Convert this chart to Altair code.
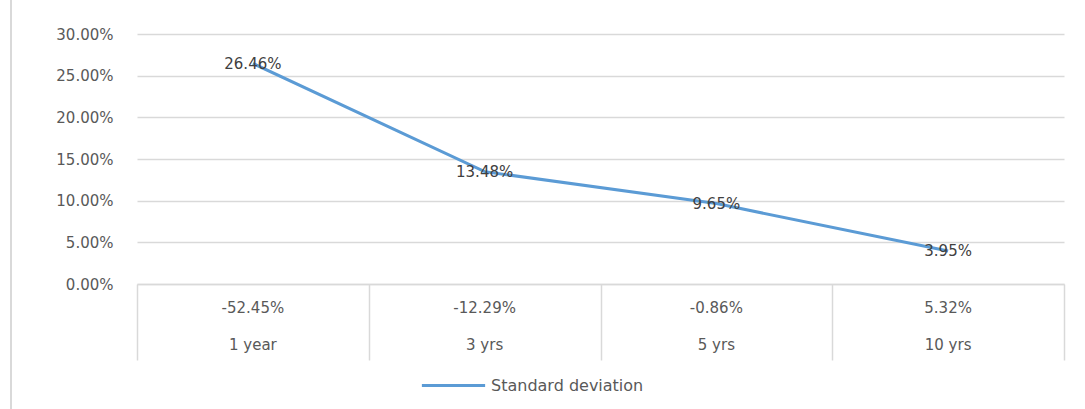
import altair as alt
import pandas as pd

periods = ["1 year", "3 yrs", "5 yrs", "10 yrs"]
std_dev = [0.2646, 0.1348, 0.0965, 0.0395]
returns = ["-52.45%", "-12.29%", "-0.86%", "5.32%"]
series_name = "Standard deviation"

df = pd.DataFrame({"period": periods, "sd": std_dev, "ret": returns,
                   "series": [series_name] * len(periods)})

W, H = 927, 250
FONT = "DejaVu Sans"
GRID = "#D9D9D9"
TXT = "#595959"

xscale = alt.Scale(type="band", paddingInner=0, paddingOuter=0)
x = alt.X("period:N", sort=periods, title=None, scale=xscale,
          axis=alt.Axis(labels=False, tickBand="extent", tickSize=76, tickColor=GRID,
                        tickWidth=1.5, domainColor=GRID, domainWidth=1.5, grid=False))
x_plain = alt.X("period:N", sort=periods)

base = alt.Chart(df)

line = base.mark_line(strokeWidth=3).encode(
    x=x,
    y=alt.Y("sd:Q", title=None,
            scale=alt.Scale(domain=[0, 0.30], nice=False),
            axis=alt.Axis(format=".2%", values=[0, 0.05, 0.10, 0.15, 0.20, 0.25, 0.30],
                          domain=False, ticks=False, labelPadding=24, labelFontSize=15,
                          labelColor=TXT, labelFont=FONT, gridColor=GRID, gridWidth=1.5)),
    color=alt.Color("series:N", scale=alt.Scale(range=["#5B9BD5"]),
                    legend=alt.Legend(title=None, orient="none", legendX=283, legendY=318,
                                      symbolType="stroke", symbolSize=4000, symbolStrokeWidth=3,
                                      labelFontSize=16, labelColor=TXT, labelFont=FONT,
                                      labelOffset=4)),
)

labels = base.mark_text(fontSize=15, font=FONT, color="#404040").encode(
    x=x_plain,
    y="sd:Q",
    text=alt.Text("sd:Q", format=".2%"),
)

ret_row = base.mark_text(fontSize=15, font=FONT, color=TXT).encode(
    x=x_plain,
    y=alt.value(H + 24),
    text="ret:N",
)

name_row = base.mark_text(fontSize=15, font=FONT, color=TXT).encode(
    x=x_plain,
    y=alt.value(H + 61),
    text="period:N",
)

frame = alt.Chart(pd.DataFrame({"a": [0]})).mark_rule(color=GRID, strokeWidth=2).encode(
    x=alt.value(-126), y=alt.value(-34), y2=alt.value(409 - 34)
)

chart = alt.layer(frame, line, labels, ret_row, name_row).properties(
    width=W, height=H,
    autosize=alt.AutoSizeParams(type="none"),
    padding={"left": 137, "top": 34, "right": 21, "bottom": 125},
    background="white",
).configure_view(stroke=None)

chart.save("out.html", embed_options={"renderer": "svg", "actions": False})
